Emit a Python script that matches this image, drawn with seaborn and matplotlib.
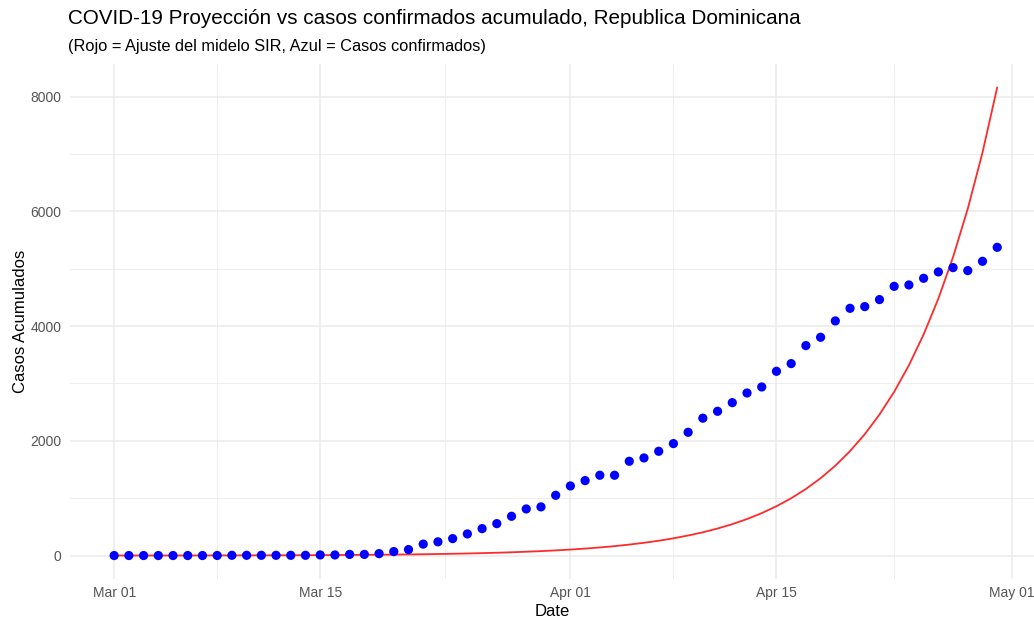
import numpy as np
import pandas as pd
import matplotlib
matplotlib.use("Agg")
import matplotlib.pyplot as plt
import seaborn as sns

# Cumulative confirmed cases, one value per day starting 2020-03-01
confirmed = [
    1, 1, 1, 1, 1, 1, 1, 2, 5, 5, 5, 5, 5, 5, 11, 11, 21, 21,
    34, 70, 105, 200, 240, 296, 378, 470, 557, 685, 813, 849, 1051,
    1214, 1307, 1400, 1400, 1644, 1702, 1818, 1952, 2149, 2395,
    2515, 2666, 2834, 2939, 3212, 3346, 3660, 3805, 4090, 4310,
    4340, 4462, 4693, 4717, 4833, 4944, 5019, 4967, 5129, 5373,
]

# SIR model fit (cumulative), same daily dates
sir_fit = [
    1.0, 1.2, 1.4, 1.6, 1.8, 2.1, 2.5, 2.9, 3.3, 3.9, 4.5,
    5.2, 6.1, 7.1, 8.2, 9.5, 11.1, 12.9, 15.0, 17.4, 20.2,
    23.5, 27.3, 31.7, 36.8, 42.8, 49.7, 57.8, 67.1, 78.0, 90.6,
    105, 122, 142, 165, 192, 223, 259, 301, 350, 406,
    472, 548, 637, 740, 860, 999, 1161, 1349, 1567, 1821,
    2115, 2458, 2855, 3317, 3854, 4478, 5203, 6045, 7023, 8160,
]

start_date = "2020-03-01"
tick_dates = ["2020-03-01", "2020-03-15", "2020-04-01", "2020-04-15", "2020-05-01"]
tick_labels = ["Mar 01", "Mar 15", "Apr 01", "Apr 15", "May 01"]
minor_dates = ["2020-03-08", "2020-03-23 12:00", "2020-04-08", "2020-04-23"]
y_ticks = [0, 2000, 4000, 6000, 8000]
y_minor = [1000, 3000, 5000, 7000]

title = "COVID-19 Proyección vs casos confirmados acumulado, Republica Dominicana"
subtitle = "(Rojo = Ajuste del midelo SIR, Azul = Casos confirmados)"

dates = pd.date_range(start_date, periods=len(confirmed), freq="D")
df = pd.DataFrame({"Date": dates, "confirmed": confirmed, "sir": sir_fit})

sns.set_theme(style="white")
plt.rcParams["font.family"] = ["Liberation Sans", "DejaVu Sans"]

W, H = 1034, 620
fig = plt.figure(figsize=(W / 100, H / 100), dpi=100)
ax = fig.add_axes([70 / W, 41 / H, (W - 70) / W, 515 / H])

# ggplot-style minimal grid: major and thinner minor lines
grid_col = "#EBEBEB"
for d in tick_dates:
    ax.axvline(pd.Timestamp(d), color=grid_col, lw=1.1, zorder=0)
for d in minor_dates:
    ax.axvline(pd.Timestamp(d), color=grid_col, lw=0.6, zorder=0)
for v in y_ticks:
    ax.axhline(v, color=grid_col, lw=1.1, zorder=0)
for v in y_minor:
    ax.axhline(v, color=grid_col, lw=0.6, zorder=0)

sns.lineplot(data=df, x="Date", y="sir", color="#FF2A2A", lw=1.3, ax=ax, zorder=2)
sns.scatterplot(data=df, x="Date", y="confirmed", color="#0000FF", s=44,
                edgecolor="none", ax=ax, zorder=3)

d0 = pd.Timestamp(start_date)
ax.set_xlim(d0 - pd.Timedelta(days=3), d0 + pd.Timedelta(days=62.5))
ax.set_ylim(-408, 8568)

ax.set_xticks([pd.Timestamp(d) for d in tick_dates])
ax.set_xticklabels(tick_labels)
ax.set_yticks(y_ticks)
ax.set_yticklabels([str(v) for v in y_ticks])
ax.tick_params(axis="both", length=0, labelsize=10, labelcolor="#555555")
ax.tick_params(axis="x", pad=5)
ax.tick_params(axis="y", pad=6)
for s in ax.spines.values():
    s.set_visible(False)
ax.grid(False)

ax.set_xlabel("Date", fontsize=12, color="black", labelpad=3)
ax.set_ylabel("Casos Acumulados", fontsize=12, color="black", labelpad=2)

fig.text(68 / W, 1 - 18 / H, title, fontsize=14.9, va="center", ha="left", color="black")
fig.text(68 / W, 1 - 46 / H, subtitle, fontsize=11.8, va="center", ha="left", color="black")

fig.savefig("out.png", dpi=100, facecolor="white")
